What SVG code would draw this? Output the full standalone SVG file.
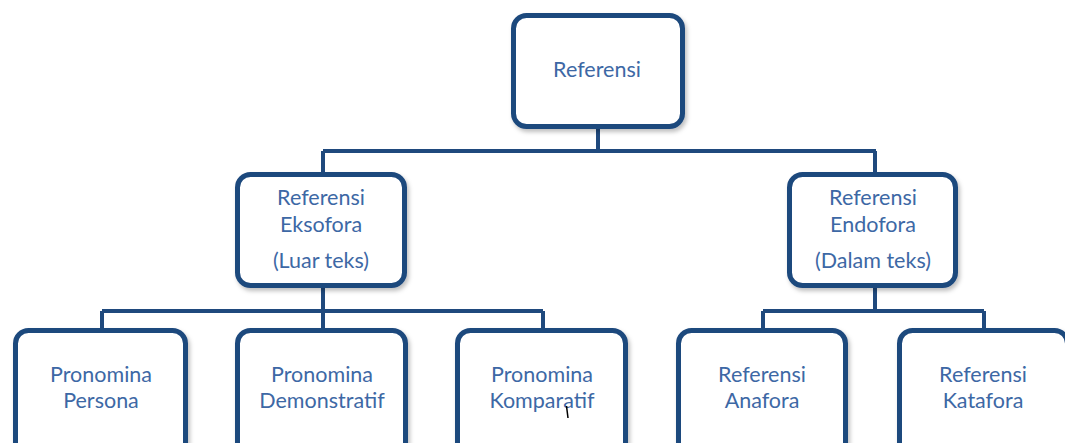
<svg xmlns="http://www.w3.org/2000/svg" width="1065" height="443" viewBox="0 0 1065 443">
<defs>
<filter id="sh" x="-10%" y="-10%" width="125%" height="125%">
<feDropShadow dx="2" dy="3" stdDeviation="2" flood-color="#000" flood-opacity="0.25"/>
</filter>
</defs>
<style>
.box{fill:#fff;stroke:#1f497d;stroke-width:5;filter:url(#sh)}
.con{fill:none;stroke:#1f497d;stroke-width:4}
text{font-family:Lato,"Liberation Sans",sans-serif;font-size:21.5px;fill:#3d68a5;text-anchor:middle}
</style>
<rect width="1065" height="443" fill="#fff"/>
<g id="connectors">
<path class="con" d="M598,129V151M323,151H876M323,151V172M875,151V172"/>
<path class="con" d="M323,288V311M102,311H543M102,311V328M323,311V328M543,311V328"/>
<path class="con" d="M875,288V311M763,311H984M763,311V328M984,311V328"/>
</g>
<g id="n-referensi">
<rect class="box" x="513.5" y="15.5" width="169" height="111" rx="13"/>
<text x="597" y="77">Referensi</text>
</g>
<g id="n-eksofora">
<rect class="box" x="237.5" y="174.5" width="167" height="111" rx="13"/>
<text x="321" y="205">Referensi</text>
<text x="321" y="232">Eksofora</text>
<text x="321" y="268">(Luar teks)</text>
</g>
<g id="n-endofora">
<rect class="box" x="789.5" y="174.5" width="166" height="111" rx="13"/>
<text x="873" y="205">Referensi</text>
<text x="873" y="232">Endofora</text>
<text x="873" y="268">(Dalam teks)</text>
</g>
<g id="n-persona">
<rect class="box" x="15.5" y="330.5" width="170" height="130" rx="13"/>
<text x="101" y="382">Pronomina</text>
<text x="101" y="408">Persona</text>
</g>
<g id="n-demonstratif">
<rect class="box" x="237.5" y="330.5" width="168" height="130" rx="13"/>
<text x="322" y="382">Pronomina</text>
<text x="322" y="408">Demonstratif</text>
</g>
<g id="n-komparatif">
<rect class="box" x="457.5" y="330.5" width="168" height="130" rx="13"/>
<text x="542" y="382">Pronomina</text>
<text x="542" y="408">Komparatif</text>
</g>
<g id="n-anafora">
<rect class="box" x="678.5" y="330.5" width="167" height="130" rx="13"/>
<text x="762" y="382">Referensi</text>
<text x="762" y="408">Anafora</text>
</g>
<g id="n-katafora">
<rect class="box" x="899.5" y="330.5" width="168" height="130" rx="13"/>
<text x="983" y="382">Referensi</text>
<text x="983" y="408">Katafora</text>
</g>
<line x1="566.5" y1="406" x2="568" y2="418" stroke="#000" stroke-width="1.5"/>
</svg>
